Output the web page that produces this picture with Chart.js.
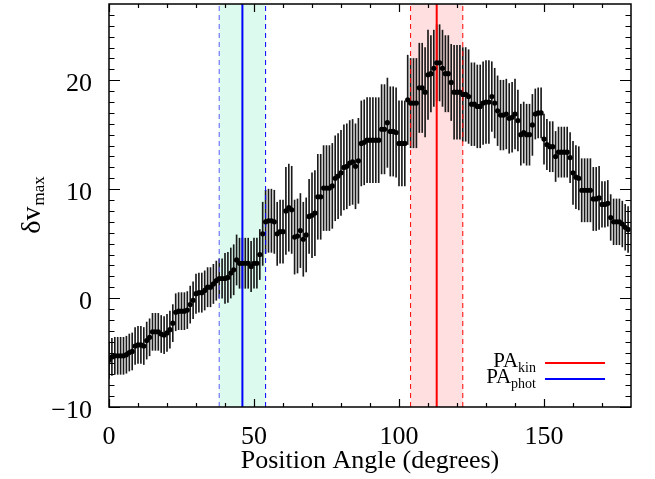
<!DOCTYPE html>
<html>
<head>
<meta charset="utf-8">
<script src="https://cdn.jsdelivr.net/npm/chart.js@4.4.1/dist/chart.umd.min.js"></script>
<style>
  html, body { margin: 0; padding: 0; background: #fff; }
  canvas { display: block; }
</style>
</head>
<body>
<canvas id="chart" width="655" height="479"></canvas>
<script>
// position angle in degrees, one point per degree
const angles = Array.from({length: 180}, (_, i) => i);

// delta v_max
const dvmax = [
  -5.7, -5.4, -5.3, -5.3, -5.3, -5.3, -5.2, -5.0, -4.9, -4.4,
  -4.3, -4.3, -4.4, -3.9, -3.6, -3.1, -3.1, -3.1, -3.3, -3.4,
  -3.2, -2.9, -2.3, -1.3, -1.2, -1.2, -1.2, -1.1, -0.6, -0.2,
   0.4,  0.5,  0.5,  0.7,  1.0,  1.0,  1.3,  1.6,  1.8,  1.8,
   1.8,  1.9,  2.3,  2.6,  3.5,  3.2,  3.2,  3.2,  3.2,  2.9,
   3.2,  3.2,  4.0,  5.9,  7.0,  7.1,  7.1,  7.0,  5.9,  6.1,
   6.1,  8.0,  8.3,  8.1,  5.6,  5.7,  6.2,  5.4,  5.8,  7.5,
   7.6,  7.8,  9.3,  9.3, 10.1, 10.1, 10.1, 10.3, 11.0, 11.2,
  11.5, 12.0, 12.1, 12.4, 12.5, 12.1, 12.6, 14.2, 14.3, 14.5,
  14.5, 14.5, 14.5, 14.5, 15.5, 15.5, 16.1, 15.3, 15.3, 15.2,
  14.2, 14.2, 14.2, 18.2, 17.9, 17.9, 17.9, 19.3, 19.3, 18.9,
  20.5, 20.6, 21.1, 21.6, 21.6, 21.1, 20.6, 20.6, 19.8, 18.9,
  18.9, 18.9, 18.7, 18.7, 18.5, 17.8, 17.8, 17.6, 17.6, 17.9,
  18.0, 18.0, 18.5, 17.9, 17.2, 16.8, 16.8, 16.9, 16.5, 16.6,
  16.9, 16.3, 15.0, 15.2, 15.0, 15.0, 15.9, 16.9, 17.0, 17.0,
  14.6, 14.1, 13.9, 13.9, 13.0, 13.4, 13.4, 13.4, 13.4, 12.9,
  11.5, 11.1, 11.0,  9.9,  9.9,  9.9,  9.9,  9.1,  9.1,  9.2,
   8.6,  8.6,  8.7,  7.4,  7.0,  7.0,  7.0,  6.8,  6.5,  6.3
];

// half length of each error bar
const dvErr = [
  1.7, 1.7, 1.7, 1.7, 1.7, 1.7, 1.7, 1.7, 1.7, 1.7,
  1.7, 1.7, 1.7, 1.7, 1.7, 1.7, 1.7, 1.7, 1.7, 1.7,
  1.7, 1.7, 1.7, 1.7, 1.7, 1.7, 1.7, 1.7, 1.7, 1.7,
  1.8, 1.8, 1.8, 1.8, 1.8, 1.8, 1.8, 1.8, 1.8, 1.8,
  2.3, 2.3, 2.3, 2.3, 2.3, 2.3, 2.3, 2.3, 2.3, 2.3,
  2.3, 2.3, 2.3, 2.9, 2.9, 2.9, 2.9, 2.9, 2.9, 2.9,
  2.9, 4.0, 4.0, 4.0, 3.4, 3.4, 3.4, 3.4, 3.4, 3.4,
  3.9, 3.9, 3.9, 3.9, 3.9, 3.9, 3.9, 3.9, 3.9, 3.9,
  3.9, 3.9, 3.9, 3.9, 3.9, 3.9, 3.9, 3.9, 3.9, 3.9,
  3.9, 3.9, 3.9, 3.9, 4.1, 4.1, 4.1, 4.1, 4.1, 4.1,
  3.9, 3.9, 3.9, 4.1, 4.1, 4.1, 4.1, 4.1, 4.1, 4.1,
  4.1, 3.5, 3.5, 3.5, 3.5, 3.5, 3.5, 3.5, 3.5, 4.3,
  4.3, 4.3, 4.3, 4.3, 4.3, 3.8, 3.8, 3.8, 3.8, 3.8,
  3.8, 3.8, 3.2, 3.2, 3.2, 3.2, 3.2, 3.2, 3.2, 3.2,
  3.2, 2.8, 2.8, 2.8, 2.8, 2.8, 2.8, 2.3, 2.3, 2.3,
  2.3, 2.3, 2.3, 2.3, 2.3, 2.3, 2.3, 2.3, 2.3, 2.3,
  2.9, 2.9, 2.9, 2.9, 2.9, 2.9, 2.9, 2.9, 2.9, 2.9,
  2.1, 2.1, 2.1, 2.1, 2.1, 2.1, 2.1, 2.1, 2.1, 2.1
];

// PA markers (centre, lower, upper)
const paPhot = [46, 38, 54];
const paKin = [113, 104, 122];

// axes
const xRange = [0, 180];
const yRange = [-10, 27];
const xMajor = [0, 50, 100, 150];
const xMinor = [10, 20, 30, 40, 60, 70, 80, 90, 110, 120, 130, 140, 160, 170];
const yMajor = [-10, 0, 10, 20];
const yMinor = [-9, -8, -7, -6, -5, -4, -3, -2, -1, 1, 2, 3, 4, 5, 6, 7, 8, 9,
                11, 12, 13, 14, 15, 16, 17, 18, 19, 21, 22, 23, 24, 25, 26];

const SERIF = "'Liberation Serif', 'DejaVu Serif', serif";

const errData = angles.map((a, i) => ({x: a, y: [dvmax[i] - dvErr[i], dvmax[i] + dvErr[i]]}));
const ptData = angles.map((a, i) => ({x: a, y: dvmax[i]}));

function vline(v, color, dash, width){
  return {
    type: 'line',
    data: [{x: v, y: yRange[0]}, {x: v, y: yRange[1]}],
    borderColor: color, borderWidth: width, borderDash: dash,
    pointRadius: 0, fill: false, order: 1
  };
}

const decor = {
  id: 'decor',
  beforeDatasetsDraw(chart){
    const {ctx, chartArea: a, scales: {x}} = chart;
    ctx.save();
    const band = (lo, hi, col) => {
      const x0 = x.getPixelForValue(lo), x1 = x.getPixelForValue(hi);
      ctx.fillStyle = col;
      ctx.fillRect(x0, a.top, x1 - x0, a.bottom - a.top);
    };
    band(paPhot[1], paPhot[2], '#dcfbee');
    band(paKin[1], paKin[2], '#ffdfdf');
    ctx.restore();
  },
  afterDraw(chart){
    const {ctx, chartArea: a, scales: {x, y}} = chart;
    ctx.save();
    ctx.strokeStyle = '#000';
    ctx.lineWidth = 1.5;
    ctx.strokeRect(a.left, a.top, a.right - a.left, a.bottom - a.top);

    ctx.lineWidth = 1.2;
    ctx.beginPath();
    const xt = (v, len) => {
      const px = Math.round(x.getPixelForValue(v)) + 0.5;
      ctx.moveTo(px, a.bottom); ctx.lineTo(px, a.bottom - len);
      ctx.moveTo(px, a.top); ctx.lineTo(px, a.top + len);
    };
    const yt = (v, len) => {
      const py = Math.round(y.getPixelForValue(v)) + 0.5;
      ctx.moveTo(a.left, py); ctx.lineTo(a.left + len, py);
      ctx.moveTo(a.right, py); ctx.lineTo(a.right - len, py);
    };
    xMajor.forEach(v => xt(v, 8));
    xMinor.forEach(v => xt(v, 4));
    yMajor.forEach(v => yt(v, 11));
    yMinor.forEach(v => yt(v, 5.5));
    ctx.stroke();

    // y title: delta v with subscript max
    ctx.fillStyle = '#000';
    ctx.translate(40, (a.top + a.bottom) / 2);
    ctx.rotate(-Math.PI / 2);
    ctx.font = '28px ' + SERIF;
    const mainW = ctx.measureText('\u03b4v').width;
    ctx.font = '17px ' + SERIF;
    const subW = ctx.measureText('max').width;
    const startX = -(mainW + subW) / 2;
    ctx.textBaseline = 'alphabetic';
    ctx.textAlign = 'left';
    ctx.font = '28px ' + SERIF;
    ctx.fillText('\u03b4v', startX, 0);
    ctx.font = '17px ' + SERIF;
    ctx.fillText('max', startX + mainW + 1, 4);
    ctx.restore();

    // legend
    ctx.save();
    ctx.fillStyle = '#000';
    ctx.textAlign = 'right';
    const items = [['PA', 'kin', '#ff0000', 367], ['PA', 'phot', '#0000ff', 383]];
    items.forEach(([main, sub, col, base]) => {
      ctx.font = '14px ' + SERIF;
      const sw = ctx.measureText(sub).width;
      ctx.fillText(sub, 536, base + 5);
      ctx.font = '21px ' + SERIF;
      ctx.fillText(main, 536 - sw, base);
      ctx.strokeStyle = col;
      ctx.lineWidth = 2;
      ctx.beginPath();
      ctx.moveTo(545, base - 4); ctx.lineTo(605, base - 4);
      ctx.stroke();
    });
    ctx.restore();
  }
};

const noPad = s => { s.paddingTop = 0; s.paddingBottom = 0; s.paddingLeft = 0; s.paddingRight = 0; };

new Chart(document.getElementById('chart'), {
  type: 'scatter',
  data: {
    datasets: [
      {
        type: 'scatter', data: ptData, backgroundColor: '#000', borderColor: '#000',
        pointRadius: 2.6, pointBorderWidth: 0, order: 0
      },
      vline(paPhot[0], '#0000ff', [], 2),
      vline(paPhot[1], '#5a5aff', [5, 4], 1),
      vline(paPhot[2], '#0000ff', [5, 4], 1),
      vline(paKin[0], '#ff0000', [], 2),
      vline(paKin[1], '#ff0000', [5, 4], 1),
      vline(paKin[2], '#ff0000', [5, 4], 1),
      {
        type: 'bar', data: errData, backgroundColor: '#1a1a1a', borderWidth: 0,
        barThickness: 1, grouped: false, order: 2
      }
    ]
  },
  options: {
    responsive: false,
    animation: false,
    layout: {padding: {top: 3, right: 24, left: 0, bottom: 0}},
    plugins: {legend: {display: false}, tooltip: {enabled: false}},
    scales: {
      x: {
        type: 'linear', min: xRange[0], max: xRange[1], offset: false,
        grid: {display: false, offset: false}, border: {display: false},
        afterBuildTicks: s => { s.ticks = xMajor.map(v => ({value: v})); },
        afterFit: s => { s.height = 72; noPad(s); },
        ticks: {color: '#000', font: {family: SERIF, size: 26}, padding: 7, maxRotation: 0},
        title: {display: true, text: 'Position Angle (degrees)', color: '#000',
                font: {family: SERIF, size: 26}, padding: {top: 0, bottom: 2}}
      },
      y: {
        type: 'linear', min: yRange[0], max: yRange[1],
        grid: {display: false}, border: {display: false},
        afterBuildTicks: s => { s.ticks = yMajor.map(v => ({value: v})); },
        afterFit: s => { s.width = 109; noPad(s); },
        ticks: {color: '#000', font: {family: SERIF, size: 26}, padding: 9, labelOffset: 4,
                callback: v => String(v).replace('-', '\u2212')}
      }
    }
  },
  plugins: [decor]
});
</script>
</body>
</html>
